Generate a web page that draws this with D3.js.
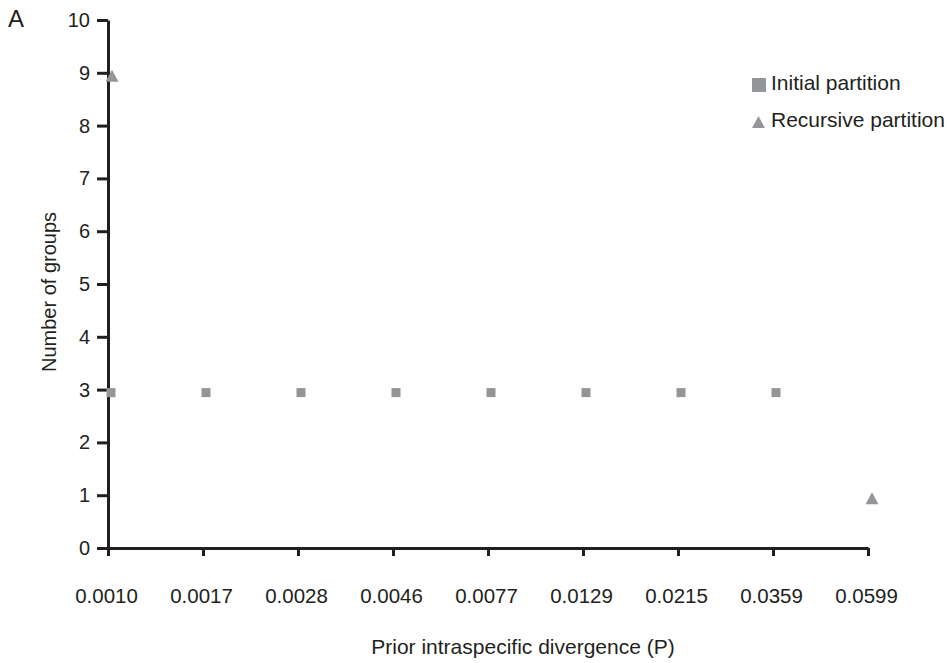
<!DOCTYPE html>
<html>
<head>
<meta charset="utf-8">
<script src="https://cdn.jsdelivr.net/npm/d3@7"></script>
<style>
  body { margin: 0; background: #fff; }
  text { font-family: "Liberation Sans", Arial, Helvetica, sans-serif; fill: #231f20; }
</style>
</head>
<body>
<div id="chart"></div>
<script>
/* Data */
var categories = ["0.0010", "0.0017", "0.0028", "0.0046", "0.0077", "0.0129", "0.0215", "0.0359", "0.0599"];
var initialPartition = [3, 3, 3, 3, 3, 3, 3, 3, null];
var recursivePartition = [9, null, null, null, null, null, null, null, 1];
var yTicks = [0, 1, 2, 3, 4, 5, 6, 7, 8, 9, 10];

/* Settings */
var width = 947,
    height = 663,
    axisColor = "#231f20",
    markerColor = "#939598",
    axisWidth = 3,
    markerDx = 3,   /* markers sit a little right/below the ticks in the original */
    markerDy = 3;

var x = d3.scalePoint()
    .domain(categories)
    .range([108, 868]);

var y = d3.scaleLinear()
    .domain([0, 10])
    .range([548, 20]);

var svg = d3.select("#chart").append("svg")
    .attr("width", width)
    .attr("height", height)
    .attr("viewBox", "0 0 " + width + " " + height);

/* Axes */
var yAxis = svg.append("g")
    .attr("transform", "translate(" + x.range()[0] + ",0)")
    .call(d3.axisLeft(y).tickValues(yTicks).tickSize(11).tickSizeOuter(0).tickPadding(7));

var xAxis = svg.append("g")
    .attr("transform", "translate(0," + y(0) + ")")
    .call(d3.axisBottom(x).tickSize(8).tickSizeOuter(0));

[yAxis, xAxis].forEach(function(g) {
  g.selectAll("path, line")
    .attr("stroke", axisColor)
    .attr("stroke-width", axisWidth);
  g.selectAll("text")
    .style("fill", axisColor)
    .attr("font-family", null);
});
yAxis.selectAll("text").attr("font-size", 20);
xAxis.selectAll("text")
    .attr("font-size", 20.5)
    .attr("y", 40)
    .attr("dy", "0.71em")
    .attr("x", -2);

/* Axis titles */
svg.append("text")
    .attr("x", 523)
    .attr("y", 654)
    .attr("text-anchor", "middle")
    .attr("font-size", 21)
    .text("Prior intraspecific divergence (P)");

svg.append("text")
    .attr("transform", "translate(56,292) rotate(-90)")
    .attr("text-anchor", "middle")
    .attr("font-size", 20)
    .text("Number of groups");

svg.append("text")
    .attr("x", 8)
    .attr("y", 27)
    .attr("font-size", 24)
    .text("A");

/* Markers */
svg.append("g").selectAll("rect")
  .data(categories.map(function(c, i) { return {c: c, v: initialPartition[i]}; })
    .filter(function(d) { return d.v != null; }))
  .join("rect")
    .attr("x", function(d) { return x(d.c) + markerDx - 4.5; })
    .attr("y", function(d) { return y(d.v) + markerDy - 4.5; })
    .attr("width", 9)
    .attr("height", 9)
    .attr("fill", markerColor);

var triangle = function(cx, cy, w, h) {
  return "M" + (cx - w / 2) + "," + (cy + h / 2) +
         "L" + cx + "," + (cy - h / 2) +
         "L" + (cx + w / 2) + "," + (cy + h / 2) + "Z";
};

svg.append("g").selectAll("path")
  .data(categories.map(function(c, i) { return {c: c, v: recursivePartition[i]}; })
    .filter(function(d) { return d.v != null; }))
  .join("path")
    .attr("d", function(d) { return triangle(x(d.c) + markerDx + 1, y(d.v) + markerDy, 13, 12); })
    .attr("fill", markerColor);

/* Legend */
var legend = svg.append("g");
legend.append("rect")
    .attr("x", 752).attr("y", 78)
    .attr("width", 14).attr("height", 14)
    .attr("fill", markerColor);
legend.append("text")
    .attr("x", 771).attr("y", 90)
    .attr("font-size", 21)
    .text("Initial partition");
legend.append("path")
    .attr("d", triangle(758.5, 122, 13, 12))
    .attr("fill", markerColor);
legend.append("text")
    .attr("x", 771).attr("y", 127)
    .attr("font-size", 21)
    .text("Recursive partition");
</script>
</body>
</html>
